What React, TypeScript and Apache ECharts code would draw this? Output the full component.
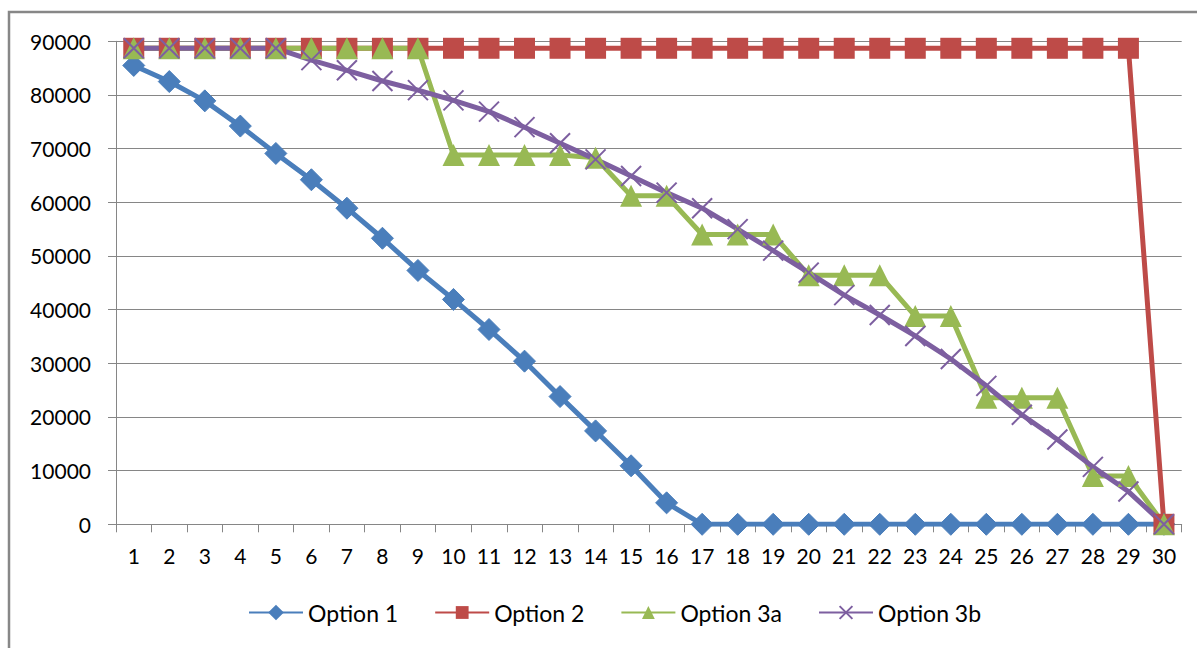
import React, { useEffect, useRef } from "react";
import * as echarts from "echarts";

const categories = Array.from({ length: 30 }, (_, i) => String(i + 1));

const option1 = [85500, 82500, 78900, 74200, 69100, 64200, 58900, 53300, 47300, 41900, 36300, 30400, 23800, 17400, 10900, 4000, 0, 0, 0, 0, 0, 0, 0, 0, 0, 0, 0, 0, 0, 0];
const option2 = [88700, 88700, 88700, 88700, 88700, 88700, 88700, 88700, 88700, 88700, 88700, 88700, 88700, 88700, 88700, 88700, 88700, 88700, 88700, 88700, 88700, 88700, 88700, 88700, 88700, 88700, 88700, 88700, 88700, 0];
const option3a = [88700, 88700, 88700, 88700, 88700, 88700, 88700, 88700, 88700, 68800, 68800, 68800, 68800, 68300, 61200, 61200, 54000, 54000, 54000, 46400, 46400, 46400, 38800, 38800, 23600, 23600, 23600, 9000, 9000, 0];
const option3b = [88700, 88700, 88700, 88700, 88700, 86500, 84600, 82600, 80900, 79000, 76900, 74000, 71000, 68000, 64900, 61800, 58900, 55000, 51000, 46900, 42700, 39000, 35100, 30800, 25800, 20400, 15800, 10700, 6100, 0];

const seriesNames = ["Option 1", "Option 2", "Option 3a", "Option 3b"];
const colors = ["#4a7ebb", "#be4b48", "#98b954", "#7d5fa0"];

const AXIS_GRAY = "#868686";

export default function App() {
  const ref = useRef<HTMLDivElement>(null);

  useEffect(() => {
    if (!ref.current) return;
    const chart = echarts.init(ref.current, undefined, { renderer: "svg" });
    const lineW = 5;
    chart.setOption({
      animation: false,
      backgroundColor: "#ffffff",
      grid: { left: 116, right: 15.3, top: 41.3, bottom: 123.7 },
      graphic: [
        {
          type: "rect",
          z: -1,
          shape: { x: 9, y: 12, width: 1400, height: 1000 },
          style: { fill: "none", stroke: "#878787", lineWidth: 2.5 },
        },
      ],
      legend: {
        data: seriesNames,
        left: 248,
        top: 601,
        padding: 0,
        itemWidth: 54,
        itemHeight: 16,
        itemGap: 36,
        textStyle: { fontFamily: "Lato, sans-serif", fontSize: 23, color: "#000", padding: [0, 0, 0, 0] },
      },
      xAxis: {
        type: "category",
        data: categories,
        boundaryGap: true,
        axisLine: { show: true, lineStyle: { color: AXIS_GRAY, width: 1 } },
        axisTick: { show: true, length: 8, inside: false, alignWithLabel: false, lineStyle: { color: AXIS_GRAY, width: 1 } },
        axisLabel: { interval: 0, margin: 21, fontFamily: "Lato, sans-serif", fontSize: 21, color: "#000" },
        splitLine: { show: false },
      },
      yAxis: {
        type: "value",
        min: 0,
        max: 90000,
        interval: 10000,
        axisLine: { show: true, lineStyle: { color: AXIS_GRAY, width: 1 } },
        axisTick: { show: true, length: 8, inside: false, lineStyle: { color: AXIS_GRAY, width: 1 } },
        axisLabel: {
          margin: 25,
          fontFamily: "Lato, sans-serif",
          fontSize: 21,
          color: "#000",
          formatter: (v: number) => String(v),
        },
        splitLine: { show: true, lineStyle: { color: AXIS_GRAY, width: 1 } },
      },
      series: [
        {
          name: seriesNames[0],
          type: "line",
          data: option1,
          symbol: "diamond",
          symbolSize: 22,
          showAllSymbol: true,
          lineStyle: { color: colors[0], width: lineW },
          itemStyle: { color: colors[0], borderColor: colors[0], borderWidth: 1 },
        },
        {
          name: seriesNames[1],
          type: "line",
          data: option2,
          symbol: "rect",
          symbolSize: 21,
          showAllSymbol: true,
          lineStyle: { color: colors[1], width: lineW },
          itemStyle: { color: colors[1], borderColor: colors[1], borderWidth: 0 },
        },
        {
          name: seriesNames[2],
          type: "line",
          data: option3a,
          symbol: "triangle",
          symbolSize: 22,
          showAllSymbol: true,
          lineStyle: { color: colors[2], width: lineW },
          itemStyle: { color: colors[2], borderColor: colors[2], borderWidth: 0 },
        },
        {
          name: seriesNames[3],
          type: "line",
          data: option3b,
          symbol: "path://M0,0L10,10M10,0L0,10",
          symbolSize: 20,
          showAllSymbol: true,
          lineStyle: { color: colors[3], width: lineW },
          itemStyle: { color: colors[3], borderColor: colors[3], borderWidth: 2 },
        },
      ],
    });
    return () => chart.dispose();
  }, []);

  return (
    <div
      ref={ref}
      style={{ position: "absolute", left: 0, top: 0, width: 1197, height: 648 }}
    />
  );
}
